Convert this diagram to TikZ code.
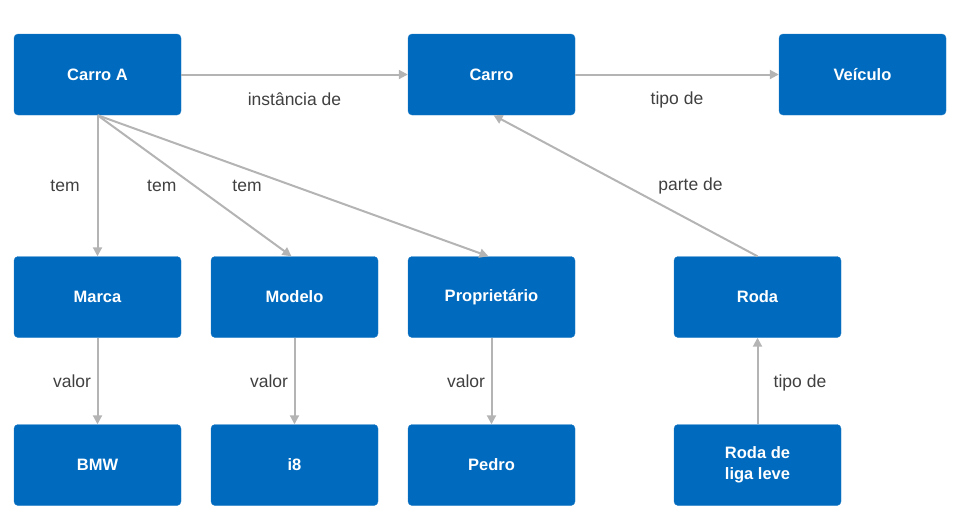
\documentclass[tikz,border=0pt]{standalone}
\usepackage{fontspec}
\setmainfont{Liberation Sans}
\usepackage{tikz}
\usetikzlibrary{shapes,arrows.meta,positioning}
\definecolor{boxblue}{RGB}{0,106,190}
\definecolor{linegray}{RGB}{180,180,180}
\definecolor{labelgray}{RGB}{64,64,64}
\tikzstyle{blueblock}=[rectangle, rounded corners=4pt, fill=boxblue, draw=boxblue!85!white, text=white, align=center, font=\bfseries\fontsize{16.5}{21}\selectfont, minimum width=167pt, minimum height=81pt, inner sep=0pt]
\tikzstyle{link}=[-{Triangle[length=9pt,width=9pt]}, draw=linegray, line width=2pt]
\tikzstyle{lbl}=[text=labelgray, font=\fontsize{17.5}{21}\selectfont, inner sep=0pt]

\begin{document}
\begin{tikzpicture}[x=1pt,y=1pt]

\useasboundingbox (0,0) rectangle (960,-528);

\node[blueblock](carroA) at (97.5,-74.5) {Carro A};
\node[blueblock](carro) at (491.5,-74.5) {Carro};
\node[blueblock](veiculo) at (862.5,-74.5) {Veículo};
\node[blueblock](marca) at (97.5,-297) {Marca};
\node[blueblock](modelo) at (294.5,-297) {Modelo};
\node[blueblock](prop) at (491.5,-297) {Proprietário};
\node[blueblock](roda) at (757.5,-297) {Roda};
\node[blueblock](bmw) at (97.5,-465) {BMW};
\node[blueblock](i8) at (294.5,-465) {i8};
\node[blueblock](pedro) at (491.5,-465) {Pedro};
\node[blueblock](liga) at (757.5,-465) {Roda de\\ liga leve};

\draw[link](carroA.east) -- node[lbl,yshift=-25pt] {instância de} (carro.west);
\draw[link](carro.east) -- node[lbl,yshift=-25.5pt] {tipo de} (veiculo.west);
\draw[link](carroA.south) -- node[lbl,xshift=-32.5pt] {tem} (marca.north);
\draw[link](carroA.south) -- node[lbl,xshift=-32.75pt] {tem} ([xshift=-3pt]modelo.north);
\draw[link](carroA.south) -- node[lbl,xshift=-46pt] {tem} ([xshift=-3pt]prop.north);
\draw[link](roda.north) -- node[lbl,xshift=65pt] {parte de} ([xshift=2pt]carro.south);
\draw[link](marca.south) -- node[lbl,xshift=-25.5pt] {valor} (bmw.north);
\draw[link](modelo.south) -- node[lbl,xshift=-25.5pt] {valor} (i8.north);
\draw[link](prop.south) -- node[lbl,xshift=-25.5pt] {valor} (pedro.north);
\draw[link](liga.north) -- node[lbl,xshift=42.5pt,yshift=-1.5pt] {tipo de} (roda.south);

\end{tikzpicture}
\end{document}
